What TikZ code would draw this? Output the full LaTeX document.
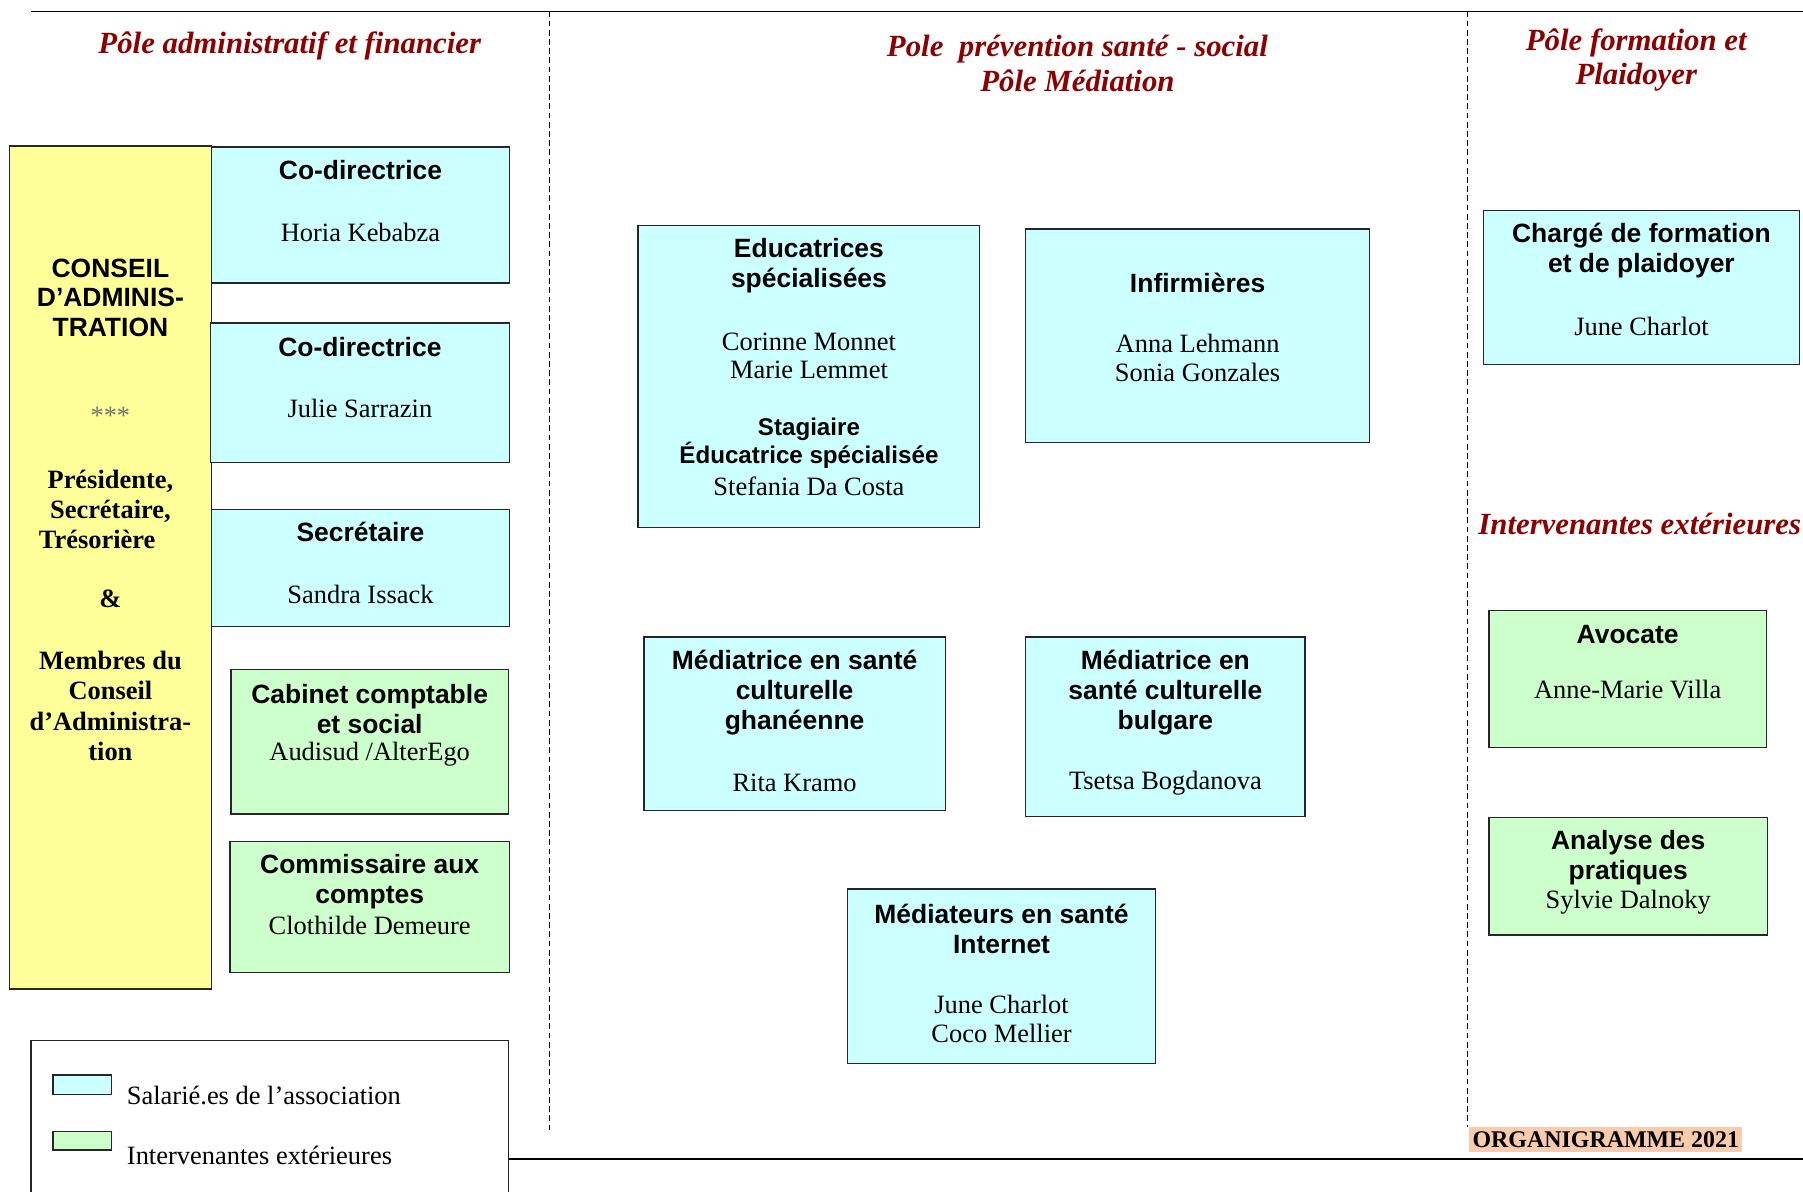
\documentclass[tikz,border=0pt]{standalone}
\usepackage{fontspec}
\setmainfont{Liberation Serif}
\setsansfont{Liberation Sans}
\usetikzlibrary{fit}

\definecolor{cyanpale}{RGB}{204,255,255}
\definecolor{vertpale}{RGB}{204,255,204}
\definecolor{jaunepale}{RGB}{255,255,153}
\definecolor{rougepole}{RGB}{139,0,0}
\definecolor{peche}{RGB}{248,203,173}

\newcommand{\fontfonction}{\fontsize{11.5}{13}\selectfont\sffamily\bfseries}
\newcommand{\fontnom}{\fontsize{11.5}{12.5}\selectfont\rmfamily}
\newcommand{\fonttitre}{\fontsize{13.4}{15}\selectfont\rmfamily\bfseries\itshape}
\newcommand{\fontconseil}{\fontsize{11.5}{13.2}\selectfont\rmfamily\bfseries}

\tikzset{
  cadre/.style={draw=black!85,line width=0.6pt,inner sep=0pt},
  salarie/.style={cadre,fill=cyanpale},
  externe/.style={cadre,fill=vertpale},
  conseil/.style={cadre,fill=jaunepale},
  fonction/.style={font=\fontfonction,align=center,inner sep=0pt},
  nom/.style={font=\fontnom,align=center,inner sep=0pt},
  membres/.style={font=\fontconseil,align=center,inner sep=0pt},
  titre/.style={font=\fonttitre,text=rougepole,align=center,inner sep=0pt},
  separateur/.style={line width=0.5pt,dash pattern=on 2.5pt off 1.5pt},
  filet/.style={line width=0.6pt},
}

\begin{document}
\begin{tikzpicture}[x=0.5pt,y=-0.5pt]
  \useasboundingbox (0,0) rectangle (1568,1036);

  % filets et separations des poles
  \draw[filet] (27,10) -- (1568,10);
  \draw[filet] (443,1008) -- (1568,1008);
  \draw[separateur] (478,10) -- (478,983);
  \draw[separateur] (1276,10) -- (1276,980);

  % titres des poles
  \node[titre] (titreAdmin) at (252,40) {Pôle administratif et financier};
  \node[titre] (titreSante) at (937,55) {Pole\ \ prévention santé - social\\Pôle Médiation};
  \node[titre] (titreFormation) at (1423,52) {Pôle formation et\\Plaidoyer};
  \node[titre] (titreExterieures) at (1426,456) {Intervenantes extérieures};

  % pole administratif et financier
  \node[conseil,fit={(8,127) (184,860)}] (conseil) {};
  \node[fonction] (conseilTitre) at (96,259) {CONSEIL\\D’ADMINIS-\\TRATION};
  \node[nom,text=black!55] (conseilEtoiles) at (96,362) {***};
  \node[membres] (conseilBureau) at (96,443) {Présidente,\\Secrétaire,\\Trésorière\rule{11.5pt}{0pt}};
  \node[membres] (conseilEt) at (96,521) {\&};
  \node[membres] (conseilMembres) at (96,614) {Membres du\\Conseil\\d’Administra-\\tion};

  \node[salarie,fit={(184,128) (443,246)}] (codirA) {};
  \node[fonction] (codirAFonction) at (313.5,148) {Co-directrice};
  \node[nom] (codirANom) at (313.5,202) {Horia Kebabza};

  \node[salarie,fit={(183,281) (443,402)}] (codirB) {};
  \node[fonction] (codirBFonction) at (313,302) {Co-directrice};
  \node[nom] (codirBNom) at (313,355) {Julie Sarrazin};

  \node[salarie,fit={(184,443) (443,545)}] (secretaire) {};
  \node[fonction] (secretaireFonction) at (313.5,463) {Secrétaire};
  \node[nom] (secretaireNom) at (313.5,517) {Sandra Issack};

  \node[externe,fit={(201,582) (442,708)}] (cabinet) {};
  \node[fonction] (cabinetFonction) at (321.5,617) {Cabinet comptable\\et social};
  \node[nom] (cabinetNom) at (321.5,656) {Audisud /AlterEgo};

  \node[externe,fit={(200,732) (443,846)}] (commissaire) {};
  \node[fonction] (commissaireFonction) at (321.5,766.5) {Commissaire aux\\comptes};
  \node[nom] (commissaireNom) at (321.5,805) {Clothilde Demeure};

  % legende
  \node[cadre,fill=white,fit={(27,905) (442,1050)}] (legende) {};
  \node[salarie,fit={(46,935) (97,952)}] (legendeSalarie) {};
  \node[nom,anchor=west] (legendeSalarieTexte) at (110,953) {Salarié.es de l’association};
  \node[externe,fit={(46,984) (97,1000)}] (legendeExterne) {};
  \node[nom,anchor=west] (legendeExterneTexte) at (110,1005) {Intervenantes extérieures};

  % pole prevention sante - social, pole mediation
  \node[salarie,fit={(555,196) (852,459)}] (educ) {};
  \node[fonction] (educFonction) at (703.5,231) {Educatrices\\spécialisées};
  \node[nom] (educNom) at (703.5,309.5) {Corinne Monnet\\Marie Lemmet};
  \node[fonction,font=\fontsize{10.5}{11.5}\selectfont\sffamily\bfseries] (stagiaireFonction) at (703.5,385.5) {Stagiaire\\Éducatrice spécialisée};
  \node[nom] (stagiaireNom) at (703.5,423) {Stefania Da Costa};

  \node[salarie,fit={(892,199) (1191,385)}] (infirm) {};
  \node[fonction] (infirmFonction) at (1041.5,246) {Infirmières};
  \node[nom] (infirmNom) at (1041.5,311.5) {Anna Lehmann\\Sonia Gonzales};

  \node[salarie,fit={(560,554) (822,705)}] (ghana) {};
  \node[fonction] (ghanaFonction) at (691,602) {Médiatrice en santé\\culturelle\\ghanéenne};
  \node[nom] (ghanaNom) at (691,681) {Rita Kramo};

  \node[salarie,fit={(892,554) (1135,710)}] (bulgare) {};
  \node[fonction] (bulgareFonction) at (1013.5,602) {Médiatrice en\\santé culturelle\\bulgare};
  \node[nom] (bulgareNom) at (1013.5,681) {Tsetsa Bogdanova};

  \node[salarie,fit={(737,773) (1005,925)}] (internet) {};
  \node[fonction] (internetFonction) at (871,808) {Médiateurs en santé\\Internet};
  \node[nom] (internetNom) at (871,886) {June Charlot\\Coco Mellier};

  % pole formation et plaidoyer, intervenantes exterieures
  \node[salarie,fit={(1290,183) (1565,317)}] (charge) {};
  \node[fonction] (chargeFonction) at (1427.5,218) {Chargé de formation\\et de plaidoyer};
  \node[nom] (chargeNom) at (1427.5,284) {June Charlot};

  \node[externe,fit={(1295,531) (1536,650)}] (avocate) {};
  \node[fonction] (avocateFonction) at (1415.5,552) {Avocate};
  \node[nom] (avocateNom) at (1415.5,600) {Anne-Marie Villa};

  \node[externe,fit={(1295,711) (1537,813)}] (analyse) {};
  \node[fonction] (analyseFonction) at (1416,746) {Analyse des\\pratiques};
  \node[nom] (analyseNom) at (1416,785) {Sylvie Dalnoky};

  \node[fill=peche,font=\fontsize{10.4}{12}\selectfont\rmfamily\bfseries,inner xsep=1.5pt,inner ysep=2pt] (organigramme) at (1396.5,991) {ORGANIGRAMME 2021};
\end{tikzpicture}
\end{document}
